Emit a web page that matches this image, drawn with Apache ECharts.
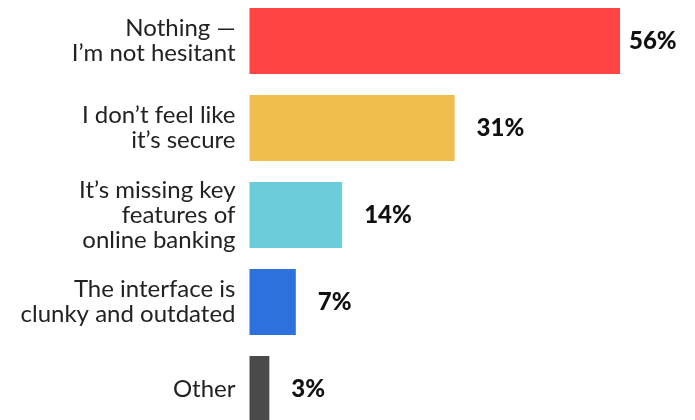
<!DOCTYPE html>
<html>
<head>
<meta charset="utf-8">
<script src="https://cdn.jsdelivr.net/npm/echarts@6/dist/echarts.min.js"></script>
<style>html,body{margin:0;padding:0;background:#fff;}#c{width:695px;height:420px;}</style>
</head>
<body>
<div id="c"></div>
<script>
const categories = [
  "Nothing —\nI’m not hesitant",
  "I don’t feel like\nit’s secure",
  "It’s missing key\nfeatures of\nonline banking",
  "The interface is\nclunky and outdated",
  "Other"
];
const values = [56, 31, 14, 7, 3];
const colors = ["#FF4444", "#F0BE4F", "#6BCDDC", "#2E70DC", "#4A4A4A"];
const labelGaps = [9, 22, 22, 22, 22];

const chart = echarts.init(document.getElementById('c'), null, {renderer: 'canvas'});
chart.setOption({
  animation: false,
  backgroundColor: '#fff',
  grid: {left: 249.5, right: 75, top: -2.5, bottom: -12.5, outerBoundsMode: 'none', containLabel: false},
  xAxis: {type: 'value', min: 0, max: 56, show: false},
  yAxis: {
    type: 'category', inverse: true, data: categories,
    axisLine: {show: false}, axisTick: {show: false}, splitLine: {show: false},
    axisLabel: {
      margin: 14, align: 'right', fontFamily: 'Lato', fontSize: 24,
      lineHeight: 25, color: '#222'
    }
  },
  series: [{
    type: 'bar', barWidth: 66,
    data: values.map((v, i) => ({
      value: v,
      itemStyle: {color: colors[i]},
      label: {distance: labelGaps[i]}
    })),
    label: {
      show: true, position: 'right', formatter: '{c}%',
      fontFamily: 'Lato', fontWeight: 900, fontSize: 24, color: '#111'
    }
  }]
});
</script>
</body>
</html>
